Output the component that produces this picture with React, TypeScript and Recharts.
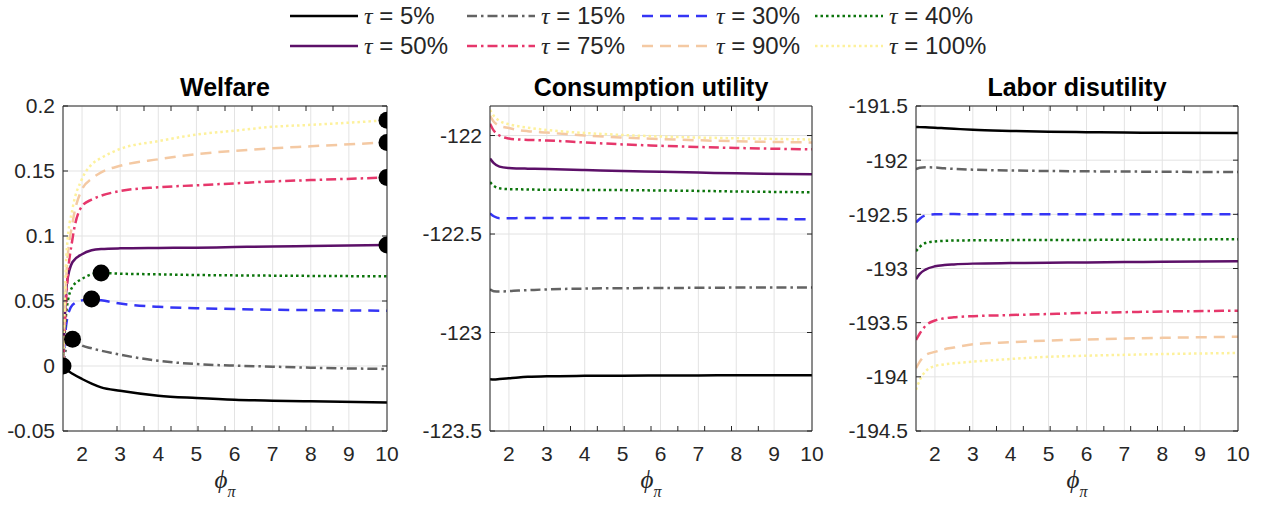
import { CartesianGrid, ComposedChart, Line, XAxis, YAxis } from "recharts";

// phi_pi grid the curves were read at
const phiGrid = [1.5, 1.6, 1.75, 2, 2.25, 2.5, 3, 4, 5, 6, 7, 8, 10];
const tauLabels = ["5%", "15%", "30%", "40%", "50%", "75%", "90%", "100%"];

// one row per tau, values along phiGrid
const welfareValues = [
  [0, -0.003, -0.006, -0.01, -0.0135, -0.0164, -0.019, -0.0228, -0.0246, -0.026, -0.0267, -0.0272, -0.028],
  [0, 0.015, 0.0205, 0.0158, 0.0136, 0.0118, 0.0087, 0.004, 0.0015, 0.0003, -0.0005, -0.0013, -0.0023],
  [0, 0.035, 0.047, 0.0505, 0.0515, 0.0505, 0.048, 0.0455, 0.0445, 0.0438, 0.0433, 0.043, 0.0425],
  [0, 0.045, 0.061, 0.067, 0.0705, 0.0715, 0.071, 0.0705, 0.07, 0.0697, 0.0695, 0.0693, 0.069],
  [0, 0.063, 0.08, 0.086, 0.089, 0.09, 0.0905, 0.0908, 0.091, 0.0915, 0.092, 0.0923, 0.093],
  [0, 0.06, 0.098, 0.123, 0.128, 0.131, 0.1346, 0.1375, 0.139, 0.1405, 0.142, 0.143, 0.145],
  [0, 0.075, 0.11, 0.136, 0.144, 0.149, 0.154, 0.159, 0.163, 0.1655, 0.1675, 0.169, 0.172],
  [0, 0.09, 0.121, 0.144, 0.155, 0.16, 0.167, 0.173, 0.178, 0.181, 0.184, 0.1855, 0.189],
];

const consumptionValues = [
  [-123.237, -123.238, -123.236, -123.232, -123.228, -123.225, -123.222, -123.22, -123.219, -123.218, -123.218, -123.217, -123.217],
  [-122.78, -122.79, -122.792, -122.79, -122.787, -122.785, -122.781, -122.777, -122.775, -122.774, -122.773, -122.772, -122.772],
  [-122.395, -122.41, -122.42, -122.42, -122.419, -122.418, -122.418, -122.419, -122.42, -122.421, -122.422, -122.423, -122.425],
  [-122.237, -122.255, -122.268, -122.272, -122.273, -122.274, -122.275, -122.276, -122.277, -122.279, -122.281, -122.284, -122.288],
  [-122.117, -122.14, -122.158, -122.165, -122.167, -122.168, -122.17, -122.175, -122.18, -122.184, -122.188, -122.192, -122.197],
  [-121.94, -121.975, -122.0, -122.015, -122.02, -122.022, -122.025, -122.035, -122.045, -122.052, -122.058, -122.063, -122.07],
  [-121.9, -121.93, -121.95, -121.962, -121.972, -121.978, -121.985, -122.0, -122.01, -122.018, -122.024, -122.029, -122.035],
  [-121.87, -121.9, -121.925, -121.943, -121.953, -121.96, -121.972, -121.987, -121.997, -122.005, -122.01, -122.014, -122.02],
];

const laborValues = [
  [-191.694, -191.695, -191.697, -191.7, -191.705, -191.71, -191.72, -191.73, -191.737, -191.742, -191.745, -191.747, -191.75],
  [-192.083, -192.07, -192.065, -192.068, -192.075, -192.08, -192.088, -192.095, -192.1, -192.103, -192.105, -192.107, -192.11],
  [-192.575, -192.54, -192.51, -192.5, -192.498, -192.498, -192.499, -192.5, -192.5, -192.5, -192.5, -192.5, -192.5],
  [-192.84, -192.8, -192.765, -192.75, -192.745, -192.742, -192.74, -192.738, -192.737, -192.736, -192.735, -192.733, -192.73],
  [-193.1, -193.05, -193.01, -192.98, -192.968, -192.962, -192.955, -192.95, -192.947, -192.944, -192.941, -192.938, -192.932],
  [-193.66, -193.6, -193.53, -193.48, -193.46, -193.45, -193.44, -193.43, -193.42, -193.41, -193.403, -193.397, -193.39],
  [-193.92, -193.86, -193.8, -193.77, -193.745, -193.73, -193.7, -193.68, -193.665, -193.655, -193.647, -193.64, -193.63],
  [-194.12, -194.03, -193.95, -193.9, -193.885, -193.875, -193.86, -193.835, -193.815, -193.805, -193.797, -193.79, -193.78],
];

const xTicks = [2, 3, 4, 5, 6, 7, 8, 9, 10];
const welfareTicks = [-0.05, 0, 0.05, 0.1, 0.15, 0.2];
const consumptionTicks = [-123.5, -123, -122.5, -122];
const laborTicks = [-194.5, -194, -193.5, -193, -192.5, -192, -191.5];

const seriesStyles = [
  { color: "#000000", dash: undefined },
  { color: "#636363", dash: "10 4 2.5 4" },
  { color: "#3535f5", dash: "11 7" },
  { color: "#0c750c", dash: "2.5 3" },
  { color: "#5c1068", dash: undefined },
  { color: "#e6376b", dash: "10 4 2.5 4" },
  { color: "#f4c9a3", dash: "11 7" },
  { color: "#fdf19c", dash: "2.5 3" },
];

const AXIS = "#262626";
const GRID = "#e3e3e3";
const FONT = '"Liberation Sans", Arial, Helvetica, sans-serif';
const SERIF = '"Liberation Serif", "DejaVu Serif", serif';
const Y_AXIS_W = 70;
const RIGHT_PAD = 20;

function buildRows(values: number[][]) {
  return phiGrid.map((phi, i) => {
    const row: Record<string, number> = { phi };
    values.forEach((series, s) => {
      row[`s${s}`] = series[i];
    });
    return row;
  });
}

interface PanelProps {
  values: number[][];
  domain: [number, number];
  yTicks: number[];
  plotLeft: number;
  plotRight: number;
  markPeaks?: boolean;
}

function Panel({ values, domain, yTicks, plotLeft, plotRight, markPeaks }: PanelProps) {
  const rows = buildRows(values);
  const tickStyle = { fontSize: 21, fill: AXIS, fontFamily: FONT };
  const blank = () => "";
  return (
    <div style={{ position: "absolute", left: plotLeft - Y_AXIS_W, top: 60 }}>
      <ComposedChart
        width={plotRight - plotLeft + Y_AXIS_W + RIGHT_PAD}
        height={446}
        data={rows}
        margin={{ top: 46, right: RIGHT_PAD, bottom: 0, left: 0 }}
      >
        <CartesianGrid stroke={GRID} />
        <XAxis
          dataKey="phi"
          type="number"
          domain={[1.5, 10]}
          ticks={xTicks}
          interval={0}
          allowDataOverflow
          height={75}
          tickLine={false}
          tickMargin={9}
          axisLine={{ stroke: AXIS }}
          tick={tickStyle}
        />
        <XAxis xAxisId="bin" type="number" domain={[1.5, 10]} ticks={xTicks} interval={0} allowDataOverflow
          orientation="bottom" mirror axisLine={false} tickSize={5} tickLine={{ stroke: AXIS }} tickFormatter={blank} />
        <XAxis xAxisId="top" type="number" domain={[1.5, 10]} ticks={xTicks} interval={0} allowDataOverflow
          orientation="top" mirror axisLine={{ stroke: AXIS }} tickSize={5} tickLine={{ stroke: AXIS }} tickFormatter={blank} />
        <YAxis
          type="number"
          domain={domain}
          ticks={yTicks}
          interval={0}
          allowDataOverflow
          width={Y_AXIS_W}
          tickLine={false}
          axisLine={{ stroke: AXIS }}
          tick={tickStyle}
        />
        <YAxis yAxisId="lin" type="number" domain={domain} ticks={yTicks} interval={0} allowDataOverflow
          orientation="left" mirror axisLine={false} tickSize={5} tickLine={{ stroke: AXIS }} tickFormatter={blank} />
        <YAxis yAxisId="right" type="number" domain={domain} ticks={yTicks} interval={0} allowDataOverflow
          orientation="right" mirror axisLine={{ stroke: AXIS }} tickSize={5} tickLine={{ stroke: AXIS }} tickFormatter={blank} />
        {values.map((series, s) => {
          const peak = series.indexOf(Math.max(...series));
          const style = seriesStyles[s];
          return (
            <Line
              key={tauLabels[s]}
              dataKey={`s${s}`}
              type="monotone"
              stroke={style.color}
              strokeWidth={2.5}
              strokeDasharray={style.dash}
              activeDot={false}
              isAnimationActive={false}
              dot={
                markPeaks
                  ? (p: any) =>
                      p.index === peak ? (
                        <circle key={`pk-${s}`} cx={p.cx} cy={p.cy} r={8.5} fill="#000" />
                      ) : (
                        <g key={`d-${s}-${p.index}`} />
                      )
                  : false
              }
            />
          );
        })}
      </ComposedChart>
    </div>
  );
}

const panels = [
  { title: "Welfare", plotLeft: 63, plotRight: 387 },
  { title: "Consumption utility", plotLeft: 490, plotRight: 812 },
  { title: "Labor disutility", plotLeft: 916, plotRight: 1238 },
];

const legendCols = [290, 467, 642, 815];
const legendRows = [16, 46];

function Overlay() {
  return (
    <svg width={1261} height={506} style={{ position: "absolute", left: 0, top: 0, pointerEvents: "none" }}>
      {tauLabels.map((label, i) => {
        const x = legendCols[i % 4];
        const y = legendRows[Math.floor(i / 4)];
        const style = seriesStyles[i];
        return (
          <g key={label}>
            <line x1={x} x2={x + 68} y1={y} y2={y} stroke={style.color} strokeWidth={2.5} strokeDasharray={style.dash} />
            <text x={x + 74} y={y + 8} fontSize={24} fontFamily={FONT} fill={AXIS}>
              <tspan fontFamily={SERIF} fontStyle="italic">τ</tspan>
              {` = ${label}`}
            </text>
          </g>
        );
      })}
      {panels.map((p) => {
        const cx = (p.plotLeft + p.plotRight) / 2;
        return (
          <g key={p.title}>
            <text x={cx} y={96} textAnchor="middle" fontSize={25} fontWeight="bold" fontFamily={FONT} fill="#000">
              {p.title}
            </text>
            <text x={cx} y={488} textAnchor="middle" fontFamily={SERIF} fill={AXIS}>
              <tspan fontSize={25} fontStyle="italic">ϕ</tspan>
              <tspan fontSize={16} fontStyle="italic" dy={9}>π</tspan>
            </text>
          </g>
        );
      })}
    </svg>
  );
}

export default function App() {
  return (
    <div style={{ position: "relative", width: 1261, height: 506, background: "#fff", overflow: "hidden" }}>
      <style>{"body{margin:0}"}</style>
      <Panel values={welfareValues} domain={[-0.05, 0.2]} yTicks={welfareTicks} plotLeft={63} plotRight={387} markPeaks />
      <Panel values={consumptionValues} domain={[-123.5, -121.85]} yTicks={consumptionTicks} plotLeft={490} plotRight={812} />
      <Panel values={laborValues} domain={[-194.5, -191.5]} yTicks={laborTicks} plotLeft={916} plotRight={1238} />
      <Overlay />
    </div>
  );
}
